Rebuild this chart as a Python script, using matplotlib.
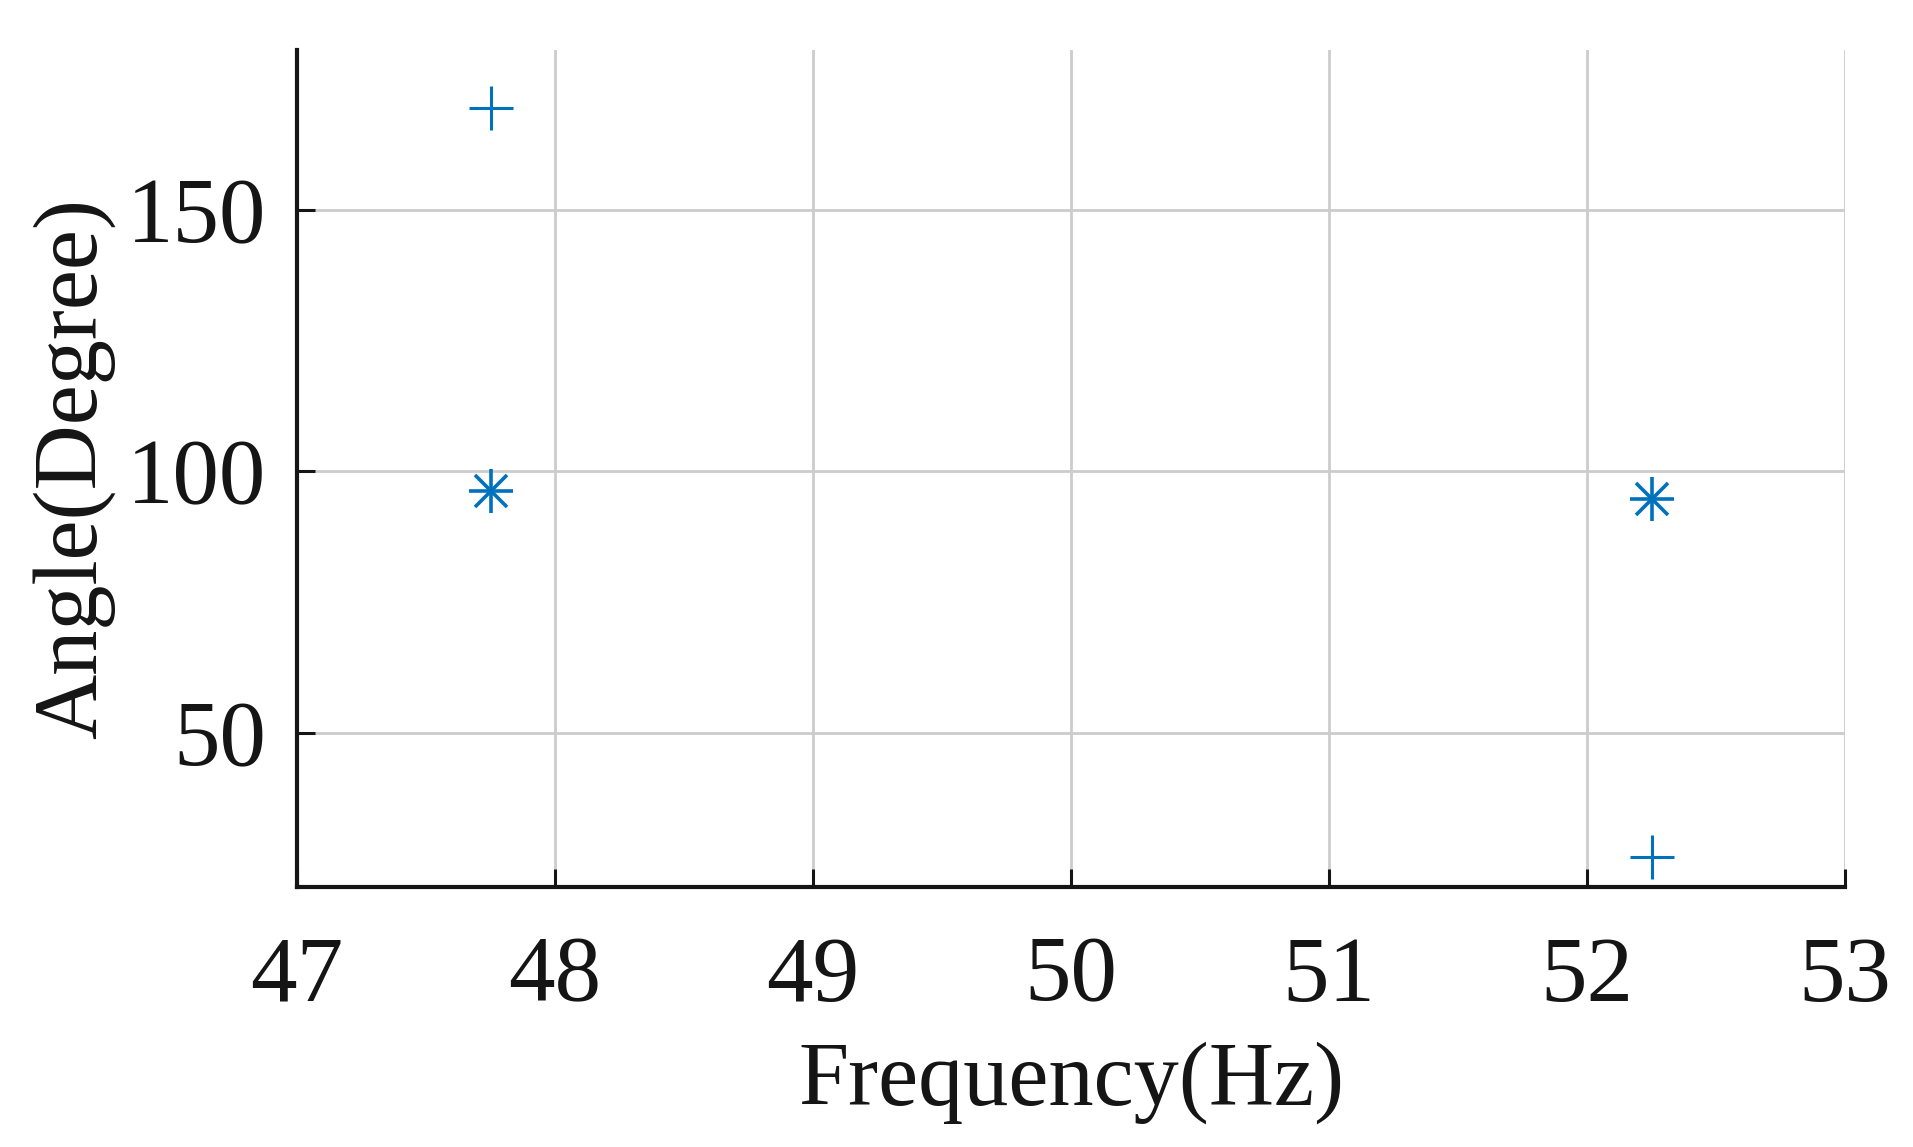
import matplotlib
matplotlib.use("Agg")
import matplotlib.pyplot as plt

freq_plus = [47.75, 52.25]
angle_plus = [169.5, 26.3]
freq_star = [47.75, 52.25]
angle_star = [96.2, 94.6]
xticks = [47, 48, 49, 50, 51, 52, 53]
yticks = [50, 100, 150]

blue = '#0072BD'
plt.rcParams['font.family'] = ['Liberation Serif', 'DejaVu Serif']

fig = plt.figure(figsize=(19.13, 11.47), dpi=100)
ax = fig.add_axes([0.1553, 0.2267, 0.8092, 0.7297])

ax.plot(freq_plus, angle_plus, linestyle='none', marker='+', markersize=32,
        markeredgewidth=2.2, color=blue, zorder=3)
# matlab style asterisk: plus and cross on top of each other
ax.plot(freq_star, angle_star, linestyle='none', marker='+', markersize=32,
        markeredgewidth=2.6, color=blue, zorder=3)
ax.plot(freq_star, angle_star, linestyle='none', marker='x', markersize=23,
        markeredgewidth=2.6, color=blue, zorder=3)

ax.set_xlim(47, 53)
ax.set_ylim(20.5, 180.5)
ax.set_xticks(xticks)
ax.set_yticks(yticks)

ax.grid(True, color='#cccccc', linewidth=2)
ax.set_axisbelow(True)
for s in ['top', 'right']:
    ax.spines[s].set_visible(False)
for s in ['left', 'bottom']:
    ax.spines[s].set_linewidth(3)
    ax.spines[s].set_color('#151515')

ax.tick_params(axis='both', direction='in', length=13, width=2.2,
               colors='#151515', labelsize=67)
ax.tick_params(axis='x', pad=35)
ax.tick_params(axis='y', pad=22)

ax.set_xlabel('Frequency(Hz)', fontsize=65, color='#151515', labelpad=15)
ax.set_ylabel('Angle(Degree)', fontsize=65, color='#151515', labelpad=9)

fig.savefig('out.png', dpi=100)
